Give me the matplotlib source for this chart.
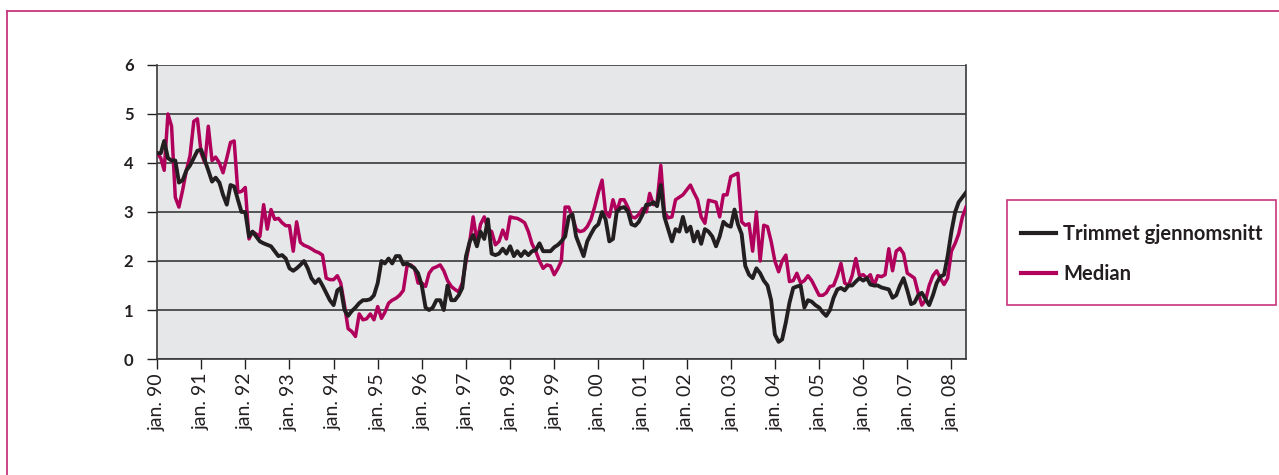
import numpy as np
import pandas as pd
import matplotlib
matplotlib.use("Agg")
import matplotlib.pyplot as plt
from matplotlib.patches import Rectangle
from matplotlib.lines import Line2D

plt.rcParams['font.family'] = ['Lato', 'DejaVu Sans']

# monthly values, jan 1990 - may 2008 (one row per year)
trimmet = [
    4.2, 4.2, 4.45, 4.1, 4.05, 4.05, 3.6, 3.65, 3.85, 3.95, 4.1, 4.25,     # 1990
    4.27, 4.05, 3.85, 3.62, 3.7, 3.6, 3.35, 3.15, 3.55, 3.52, 3.25, 3.0,   # 1991
    3.0, 2.5, 2.6, 2.5, 2.4, 2.36, 2.33, 2.3, 2.2, 2.1, 2.12, 2.05,        # 1992
    1.85, 1.8, 1.85, 1.92, 2.0, 1.85, 1.65, 1.55, 1.63, 1.5, 1.35, 1.2,    # 1993
    1.1, 1.4, 1.45, 1.0, 0.88, 0.98, 1.05, 1.14, 1.2, 1.2, 1.22, 1.3,      # 1994
    1.55, 2.0, 1.95, 2.05, 1.95, 2.1, 2.1, 1.93, 1.95, 1.9, 1.85, 1.75,    # 1995
    1.5, 1.05, 1.0, 1.05, 1.2, 1.2, 1.0, 1.5, 1.2, 1.2, 1.3, 1.45,         # 1996
    2.1, 2.4, 2.53, 2.3, 2.6, 2.45, 2.85, 2.15, 2.12, 2.15, 2.25, 2.15,    # 1997
    2.3, 2.1, 2.2, 2.1, 2.2, 2.12, 2.2, 2.22, 2.36, 2.2, 2.2, 2.2,         # 1998
    2.28, 2.33, 2.4, 2.5, 2.9, 2.95, 2.5, 2.3, 2.1, 2.4, 2.55, 2.68,       # 1999
    2.75, 3.0, 2.85, 2.4, 2.45, 3.0, 3.08, 3.1, 3.02, 2.75, 2.72, 2.8,     # 2000
    2.95, 3.15, 3.15, 3.2, 3.12, 3.55, 2.9, 2.65, 2.4, 2.65, 2.6, 2.9,     # 2001
    2.6, 2.7, 2.4, 2.6, 2.35, 2.65, 2.6, 2.5, 2.3, 2.5, 2.8, 2.73,         # 2002
    2.7, 3.05, 2.75, 2.55, 1.9, 1.72, 1.65, 1.85, 1.75, 1.6, 1.5, 1.2,     # 2003
    0.5, 0.35, 0.4, 0.75, 1.15, 1.45, 1.48, 1.5, 1.05, 1.2, 1.17, 1.1,     # 2004
    1.05, 0.95, 0.88, 1.0, 1.25, 1.42, 1.45, 1.4, 1.5, 1.5, 1.58, 1.65,    # 2005
    1.6, 1.65, 1.52, 1.5, 1.5, 1.46, 1.44, 1.42, 1.25, 1.3, 1.5, 1.65,     # 2006
    1.4, 1.12, 1.15, 1.3, 1.35, 1.22, 1.1, 1.3, 1.55, 1.68, 1.72, 2.1,     # 2007
    2.6, 3.0, 3.2, 3.3, 3.4,                                               # 2008
]

median = [
    4.2, 4.1, 3.85, 5.0, 4.75, 3.3, 3.1, 3.45, 3.85, 4.15, 4.85, 4.9,      # 1990
    4.2, 4.0, 4.75, 4.05, 4.12, 4.0, 3.8, 4.1, 4.42, 4.45, 3.4, 3.42,      # 1991
    3.5, 2.45, 2.6, 2.55, 2.5, 3.15, 2.65, 3.05, 2.85, 2.87, 2.78, 2.72,   # 1992
    2.72, 2.2, 2.8, 2.38, 2.32, 2.29, 2.25, 2.2, 2.17, 2.12, 1.65, 1.62,   # 1993
    1.62, 1.7, 1.55, 1.1, 0.62, 0.56, 0.46, 0.92, 0.8, 0.82, 0.92, 0.8,    # 1994
    1.07, 0.83, 0.95, 1.14, 1.2, 1.24, 1.3, 1.4, 1.9, 1.92, 1.86, 1.55,    # 1995
    1.55, 1.48, 1.75, 1.85, 1.88, 1.92, 1.8, 1.6, 1.48, 1.42, 1.37, 1.55,  # 1996
    2.0, 2.4, 2.9, 2.4, 2.75, 2.9, 2.65, 2.6, 2.33, 2.4, 2.63, 2.45,       # 1997
    2.9, 2.88, 2.87, 2.83, 2.78, 2.6, 2.35, 2.2, 2.0, 1.85, 1.92, 1.9,     # 1998
    1.72, 1.85, 2.0, 3.1, 3.1, 2.9, 2.65, 2.6, 2.62, 2.7, 2.85, 3.1,       # 1999
    3.4, 3.65, 3.0, 2.9, 3.25, 3.0, 3.25, 3.25, 3.1, 2.9, 2.88, 2.95,      # 2000
    3.07, 3.0, 3.38, 3.15, 3.2, 3.95, 3.0, 2.88, 2.9, 3.25, 3.3, 3.35,     # 2001
    3.45, 3.55, 3.4, 3.25, 2.9, 2.77, 3.24, 3.22, 3.2, 2.9, 3.35, 3.35,    # 2002
    3.72, 3.76, 3.79, 2.8, 2.73, 2.76, 2.2, 3.0, 2.0, 2.73, 2.7, 2.4,      # 2003
    2.0, 1.78, 2.0, 2.12, 1.58, 1.6, 1.75, 1.55, 1.6, 1.7, 1.6, 1.45,      # 2004
    1.3, 1.3, 1.35, 1.48, 1.5, 1.7, 1.95, 1.55, 1.5, 1.7, 2.05, 1.7,       # 2005
    1.72, 1.65, 1.72, 1.5, 1.7, 1.68, 1.72, 2.25, 1.8, 2.2, 2.26, 2.15,    # 2006
    1.75, 1.7, 1.65, 1.35, 1.1, 1.2, 1.5, 1.7, 1.8, 1.65, 1.52, 1.65,      # 2007
    2.2, 2.36, 2.55, 2.9, 3.1,                                             # 2008
]

dates = pd.date_range("1990-01-01", periods=len(trimmet), freq="MS")
tick_dates = dates[::12]
tick_labels = ["jan. " + d.strftime("%y") for d in tick_dates]

black = "#231f20"
magenta = "#b0005c"
frame = "#c8357c"
W, H = 1279, 475

fig = plt.figure(figsize=(12.79, 4.75), dpi=100)
ax = fig.add_axes([0.1228, 0.2442, 0.6325, 0.619])
ax.set_facecolor("#e6e7e8")

ax.plot(dates, median, color=magenta, lw=2.5, label="Median", zorder=3)
ax.plot(dates, trimmet, color=black, lw=2.8, label="Trimmet gjennomsnitt", zorder=4)

ax.set_ylim(0, 6)
ax.set_yticks(range(0, 7))
ax.set_xlim(dates[0], dates[-1])
ax.set_xticks(tick_dates)
ax.set_xticklabels(tick_labels, rotation=90, fontsize=14, color=black)
ax.tick_params(axis="y", labelsize=12, length=7, width=1, colors=black, pad=10)
ax.tick_params(axis="x", length=7, width=1, colors=black, pad=3)
for lbl in ax.get_yticklabels():
    lbl.set_fontweight("bold")

ax.grid(axis="y", color="#3a3a3a", lw=1.2)
ax.set_axisbelow(True)
for s in ["left", "bottom", "right"]:
    ax.spines[s].set_color("#3a3a3a")
    ax.spines[s].set_linewidth(1.2)
ax.spines["top"].set_visible(False)

handles, labels = ax.get_legend_handles_labels()
leg = fig.legend(handles[::-1], labels[::-1], loc="center left",
                 bbox_to_anchor=(1011 / W, 1 - 254 / H), frameon=False,
                 handlelength=1.75, handletextpad=0.35, labelspacing=1.0,
                 borderpad=0, prop={"weight": "bold", "size": 14.5})
for line in leg.get_lines():
    line.set_linewidth(3)
for txt in leg.get_texts():
    txt.set_color(black)

# legend frame
fig.patches.append(Rectangle((1007 / W, 1 - 305 / H), 269 / W, 105 / H,
                             transform=fig.transFigure, fill=False,
                             edgecolor=frame, lw=1.2))

# page frame: left and top rules only
fig.add_artist(Line2D([7 / W, 7 / W], [0, 1 - 11 / H], color=frame, lw=1.3,
                      transform=fig.transFigure))
fig.add_artist(Line2D([7 / W, 1], [1 - 11 / H, 1 - 11 / H], color=frame, lw=1.3,
                      transform=fig.transFigure))

fig.savefig("out.png", dpi=100)
